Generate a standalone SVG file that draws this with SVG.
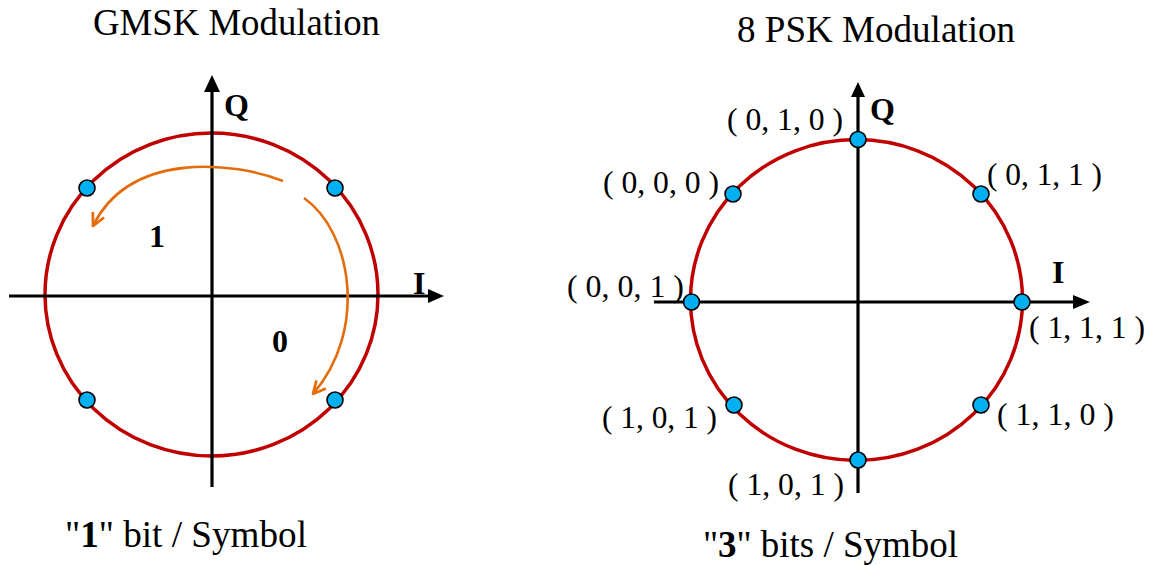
<svg xmlns="http://www.w3.org/2000/svg" width="1149" height="565" viewBox="0 0 1149 565">
<style>
text{font-family:"Liberation Serif","Times New Roman",serif;fill:#000}
.title{font-size:37px}
.cap{font-size:38px}
.ax{font-size:32px;font-weight:bold}
.bit{font-size:32px;font-weight:bold}
.lbl{font-size:32px}
.axis{stroke:#000;stroke-width:3.2;fill:none}
.ring{stroke:#C00000;stroke-width:3.5;fill:none}
.dot{fill:#00B0F0;stroke:#000;stroke-width:1.6}
.head{fill:#000}
.orange{stroke:#E46C0A;stroke-width:2.6;fill:none}
</style>
<defs>
<marker id="oarrow" viewBox="0 0 12 12" refX="11" refY="6" markerWidth="15" markerHeight="15" markerUnits="userSpaceOnUse" orient="auto">
<path d="M1,1 L11,6 L1,11" fill="none" stroke="#E46C0A" stroke-width="2.2"/>
</marker>
</defs>
<rect width="1149" height="565" fill="#fff"/>

<g id="gmsk">
<text class="title" x="93" y="35" textLength="287" lengthAdjust="spacingAndGlyphs">GMSK Modulation</text>
<ellipse class="ring" cx="211.5" cy="294.5" rx="166.5" ry="161.5"/>
<line class="axis" x1="9" y1="296" x2="430" y2="296"/>
<polygon class="head" points="428,289 444,296 428,303"/>
<line class="axis" x1="212" y1="487" x2="212" y2="90"/>
<polygon class="head" points="204,92 212,75 220,92"/>
<text class="ax" x="224" y="116">Q</text>
<text class="ax" x="413" y="294">I</text>
<text class="bit" x="149" y="247">1</text>
<text class="bit" x="272" y="352">0</text>
<g id="gmsk-dot-1"><circle class="dot" cx="87" cy="188" r="8"/></g>
<g id="gmsk-dot-2"><circle class="dot" cx="335" cy="188" r="8"/></g>
<g id="gmsk-dot-3"><circle class="dot" cx="87" cy="400" r="8"/></g>
<g id="gmsk-dot-4"><circle class="dot" cx="335" cy="400" r="8"/></g>
<text class="cap" x="65" y="547" textLength="242" lengthAdjust="spacingAndGlyphs">"<tspan font-weight="bold">1</tspan>" bit / Symbol</text>
</g>

<g id="connectors">
<path class="orange" d="M283,181 C235,162 130,150 93,226" marker-end="url(#oarrow)"/>
<path class="orange" d="M304,198 C352,232 368,330 313,394" marker-end="url(#oarrow)"/>
</g>

<g id="psk8">
<text class="title" x="737" y="42" textLength="278" lengthAdjust="spacingAndGlyphs">8 PSK Modulation</text>
<ellipse class="ring" cx="856.5" cy="300" rx="166" ry="160.5"/>
<line class="axis" x1="654" y1="302" x2="1075" y2="302"/>
<polygon class="head" points="1073,295 1090,302 1073,309"/>
<line class="axis" x1="858" y1="493" x2="858" y2="95"/>
<polygon class="head" points="851,97 858,82 865,97"/>
<text class="ax" x="870" y="120">Q</text>
<text class="ax" x="1052" y="283">I</text>
<g id="psk-010"><circle class="dot" cx="858" cy="139.5" r="8"/><text class="lbl" x="727" y="130" textLength="116" lengthAdjust="spacingAndGlyphs">( 0, 1, 0 )</text></g>
<g id="psk-011"><circle class="dot" cx="981" cy="194" r="8"/><text class="lbl" x="987" y="185" textLength="115" lengthAdjust="spacingAndGlyphs">( 0, 1, 1 )</text></g>
<g id="psk-111"><circle class="dot" cx="1022" cy="302" r="8"/><text class="lbl" x="1029" y="338" textLength="116" lengthAdjust="spacingAndGlyphs">( 1, 1, 1 )</text></g>
<g id="psk-110"><circle class="dot" cx="981" cy="405" r="8"/><text class="lbl" x="997" y="425" textLength="117" lengthAdjust="spacingAndGlyphs">( 1, 1, 0 )</text></g>
<g id="psk-101b"><circle class="dot" cx="858" cy="460" r="8"/><text class="lbl" x="728" y="495" textLength="116" lengthAdjust="spacingAndGlyphs">( 1, 0, 1 )</text></g>
<g id="psk-101a"><circle class="dot" cx="734" cy="405" r="8"/><text class="lbl" x="602" y="428" textLength="115" lengthAdjust="spacingAndGlyphs">( 1, 0, 1 )</text></g>
<g id="psk-001"><circle class="dot" cx="691.5" cy="302" r="8"/><text class="lbl" x="567" y="297" textLength="117" lengthAdjust="spacingAndGlyphs">( 0, 0, 1 )</text></g>
<g id="psk-000"><circle class="dot" cx="733" cy="194" r="8"/><text class="lbl" x="603" y="193" textLength="116" lengthAdjust="spacingAndGlyphs">( 0, 0, 0 )</text></g>
<text class="cap" x="703" y="557" textLength="255" lengthAdjust="spacingAndGlyphs">"<tspan font-weight="bold">3</tspan>" bits / Symbol</text>
</g>
</svg>
